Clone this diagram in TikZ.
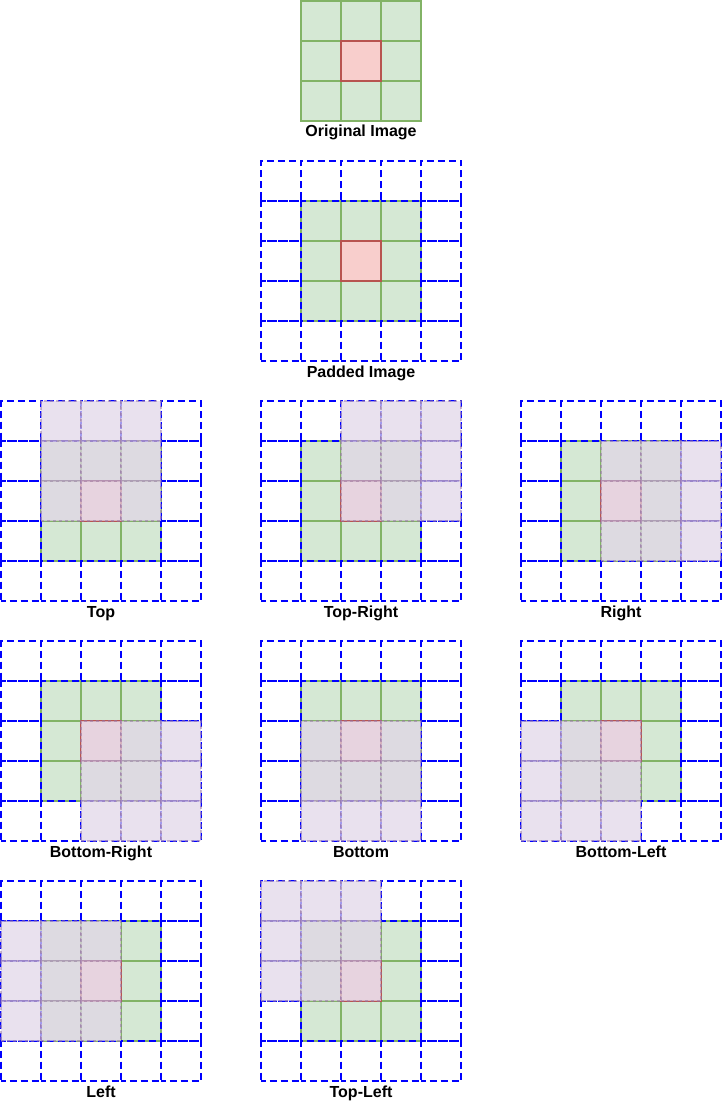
\documentclass[tikz,border=0pt]{standalone}
\usepackage{fontspec}
\setmainfont{Liberation Sans}
\definecolor{gfill}{HTML}{D5E8D4}
\definecolor{gdraw}{HTML}{82B366}
\definecolor{rfill}{HTML}{F8CECC}
\definecolor{rdraw}{HTML}{B85450}
\definecolor{pfill}{HTML}{E1D5E7}
\definecolor{pdraw}{HTML}{9673A6}
\definecolor{pblue}{HTML}{0000FF}
\tikzset{
  cellbase/.style={rectangle, minimum width=40pt, minimum height=40pt, inner sep=0pt, outer sep=0pt, line width=2pt},
  gcell/.style={cellbase, fill=gfill, draw=gdraw},
  rcell/.style={cellbase, fill=rfill, draw=rdraw},
  padcell/.style={cellbase, draw=pblue, line width=2.2pt, dash pattern=on 7pt off 4pt, dash phase=2.5pt},
  wcell/.style={cellbase, fill=pfill, fill opacity=0.72, draw=pdraw, draw opacity=0.5, dash pattern=on 3pt off 3pt},
  lbl/.style={font=\bfseries\fontsize{16}{19}\selectfont, anchor=base, inner sep=0pt}
}
\newcommand\mypanel[6]{%
  \foreach \i in {1,2,3}{\foreach \j in {1,2,3}{
    \node[gcell] (#6-g\i\j) at ({#1+20+40*\i},{#2+20+40*\j}) {};}}
  \node[rcell] (#6-r) at ({#1+100},{#2+100}) {};
  \foreach \i/\j in {0/0,1/0,2/0,3/0,4/0,0/1,4/1,0/2,4/2,0/3,4/3,0/4,1/4,2/4,3/4,4/4}{
    \node[padcell] (#6-p\i\j) at ({#1+20+40*\i},{#2+20+40*\j}) {};}
  \ifnum#3>-1
  \foreach \i in {0,1,2}{\foreach \j in {0,1,2}{
    \node[wcell] (#6-w\i\j) at ({#1+20+40*(\i+#3)},{#2+20+40*(\j+#4)}) {};}}
  \fi
  \node[lbl] (#6-l) at ({#1+100},{#2+216}) {#5};
}
\begin{document}
\begin{tikzpicture}[x=1pt,y=-1pt]
\useasboundingbox (0,0) rectangle (722,1102);
% original image
\foreach \i in {0,1,2}{\foreach \j in {0,1,2}{
  \node[gcell] (o-g\i\j) at ({321+40*\i},{21+40*\j}) {};}}
\node[rcell] (o-r) at (361,61) {};
\node[lbl] (o-l) at (361,137) {Original Image};
% padded
\mypanel{261}{161}{-1}{-1}{Padded Image}{pad}
% shifts
\mypanel{1}{401}{1}{0}{Top}{t}
\mypanel{261}{401}{2}{0}{Top-Right}{tr}
\mypanel{521}{401}{2}{1}{Right}{r}
\mypanel{1}{641}{2}{2}{Bottom-Right}{br}
\mypanel{261}{641}{1}{2}{Bottom}{b}
\mypanel{521}{641}{0}{2}{Bottom-Left}{bl}
\mypanel{1}{881}{0}{1}{Left}{l}
\mypanel{261}{881}{0}{0}{Top-Left}{tl}
\end{tikzpicture}
\end{document}
